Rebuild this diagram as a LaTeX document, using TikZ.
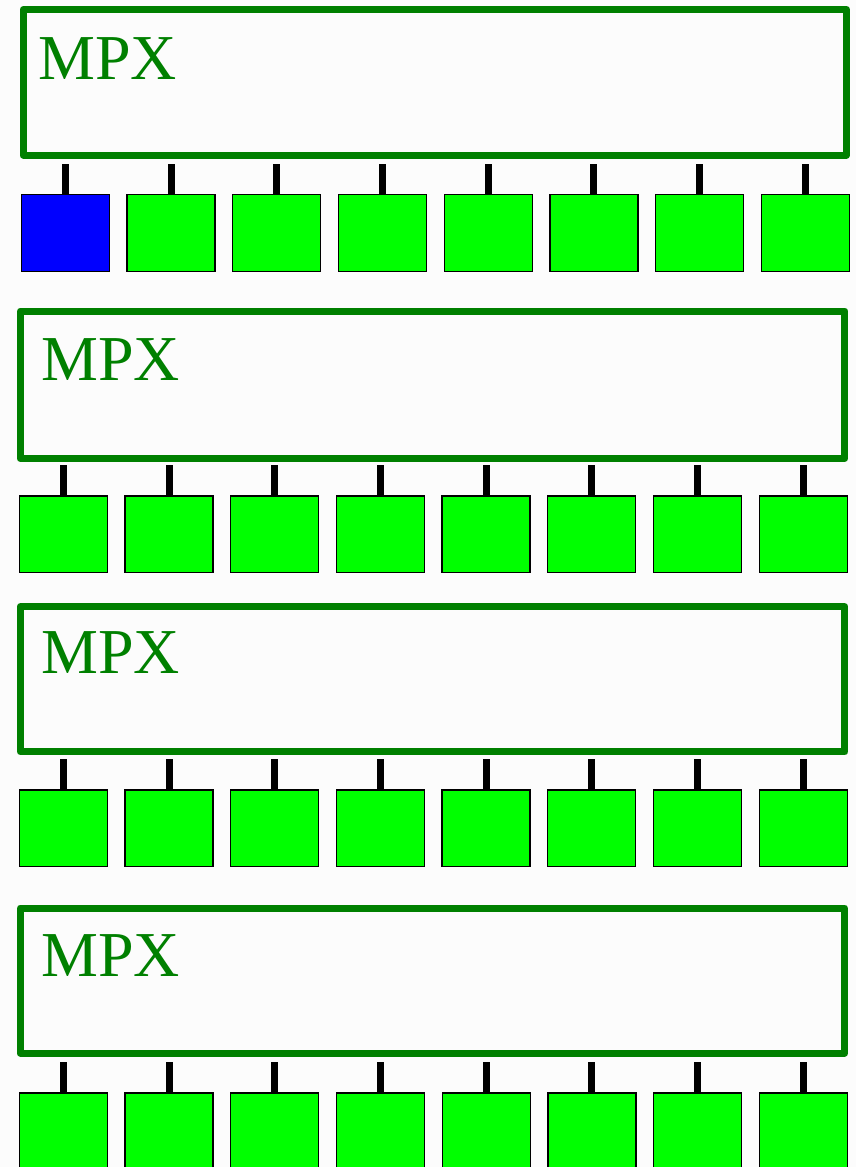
\documentclass[tikz,border=0pt]{standalone}
\usepackage{fontspec}
\setmainfont{Liberation Serif}
\definecolor{mpxgreen}{HTML}{008000}
\definecolor{cellgreen}{HTML}{00FF00}
\definecolor{cellblue}{HTML}{0000FF}
\definecolor{paper}{HTML}{FCFCFC}
\tikzset{
  mpxbox/.style={rectangle, draw=mpxgreen, line width=7pt, line join=round,
    fill=paper, inner sep=0pt},
  cell/.style={rectangle, draw=black, line width=1.3pt, minimum width=88pt,
    minimum height=76.5pt, inner sep=0pt},
  stub/.style={draw=black, line width=7pt},
  mpxlabel/.style={text=mpxgreen, font=\fontsize{64pt}{64pt}\selectfont,
    inner sep=0pt, anchor=base west},
}
\begin{document}
\begin{tikzpicture}[x=1pt,y=-1pt]
\fill[paper] (0,0) rectangle (856,1167);
\useasboundingbox (0,0) rectangle (856,1167);
% one multiplexer board per row, with its eight cells below it
\foreach \r/\bx/\by/\bw/\bh/\tx/\ty/\qx/\qy in {
  1/434.75/82.25/823.5/145.5/38.2/79/65.4/233,
  2/432.6/384.8/824.7/147.5/41/380/63.3/534.2,
  3/432.6/679.3/824.7/145.3/41/673/63.3/828.3,
  4/432.4/980.5/824.5/145/41/976.7/63.4/1131.2}
{
  \node[mpxbox, minimum width=\bw pt, minimum height=\bh pt] (mpx\r) at (\bx,\by) {};
  \node[mpxlabel] (lbl\r) at (\tx,\ty) {MPX};
  \foreach \i in {0,...,7} {
    \pgfmathsetmacro\cx{\qx+105.7*\i}
    \ifnum\r\i=10 \def\cc{cellblue}\else\def\cc{cellgreen}\fi
    \node[cell, fill=\cc] (q\r-\i) at (\cx,\qy) {};
    \coordinate (c\r-\i) at ([yshift=30pt]q\r-\i.north);
    \draw[stub] (c\r-\i) -- (q\r-\i.north);
  }
}
\end{tikzpicture}
\end{document}
